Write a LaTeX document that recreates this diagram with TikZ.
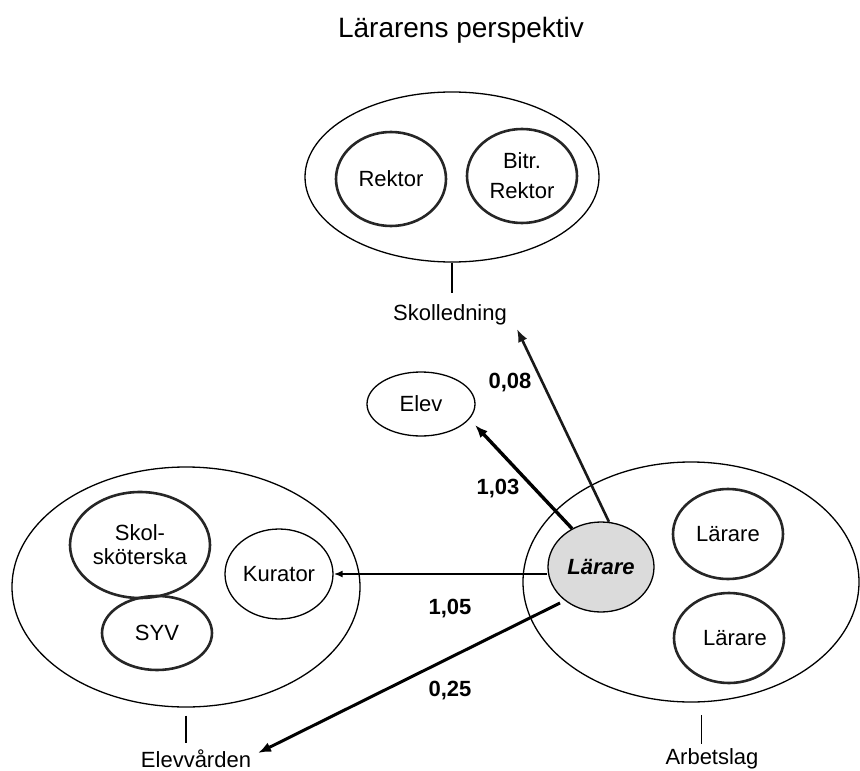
\documentclass[tikz,border=0pt]{standalone}
\usepackage{fontspec}
\setmainfont{Liberation Sans}
\usetikzlibrary{arrows.meta,shapes.geometric}
\begin{document}
\begin{tikzpicture}[x=1pt,y=-1pt,
  lbl/.style={font=\fontsize{22}{24}\selectfont, inner sep=1pt},
  num/.style={font=\bfseries\fontsize{22}{24}\selectfont, inner sep=1pt},
  group/.style={ellipse, draw, line width=1.3pt, inner sep=0pt},
  member/.style={ellipse, draw=black!85, line width=2.6pt, inner sep=0pt, align=center, font=\fontsize{22}{24}\selectfont},
  thinmember/.style={ellipse, draw, line width=1.3pt, inner sep=0pt, align=center, font=\fontsize{22}{24}\selectfont},
  tick/.style={line width=1.3pt},
  arr/.style={-{Latex[length=13pt,width=10pt]}},
]
\useasboundingbox (0,0) rectangle (860,771);

% title
\node[inner sep=0pt, anchor=base, font=\fontsize{28}{30}\selectfont] (title) at (461,37) {Lärarens perspektiv};

% Skolledning
\node[group, minimum width=294pt, minimum height=170pt] (skol) at (452,177) {};
\node[member, minimum width=110pt, minimum height=94pt] (rektor) at (391,179) {Rektor};
\node[member, minimum width=110pt, minimum height=94pt] (bitr) at (522,176) {Bitr.\\[6pt]Rektor};
\node[lbl, anchor=base] (skolLbl) at (450,320) {Skolledning};
\draw[tick, shorten >=10pt] (skol.south) -- (skol.south |- skolLbl.north);

% Elev
\node[thinmember, minimum width=108pt, minimum height=64pt] (elev) at (421,404) {Elev};

% Arbetslag
\node[group, minimum width=336pt, minimum height=240pt] (arb) at (691,582) {};
\node[member, minimum width=110pt, minimum height=90pt] (l1) at (728,534) {Lärare};
\node[member, minimum width=110pt, minimum height=90pt] (l2) at (729,638) {\hspace*{12pt}Lärare};
\node[ellipse, draw, line width=1.3pt, fill=black!14, inner sep=0pt, minimum width=106pt, minimum height=90pt, font=\bfseries\itshape\fontsize{22}{24}\selectfont] (lar) at (601,567) {Lärare};
\node[lbl, anchor=base] (arbLbl) at (712,764) {Arbetslag};
\draw[tick, shorten <=13pt, shorten >=3pt] (arb.275) -- (arb.275 |- arbLbl.north);

% Elevvården
\node[group, minimum width=348pt, minimum height=240pt] (ev) at (186,587) {};
\node[member, minimum width=140pt, minimum height=106pt] (ss) at (140,545) {Skol-\\sköterska};
\node[member, minimum width=110pt, minimum height=74pt] (syv) at (157,633) {SYV};
\node[thinmember, minimum width=108pt, minimum height=90pt] (kur) at (279,574) {Kurator};
\node[lbl, anchor=base] (evLbl) at (196,767) {Elevvården};
\draw[tick, shorten <=8pt, shorten >=5pt] (ev.south) -- (ev.south |- evLbl.north);

% connectors
\coordinate (skolTip) at (517,329);
\coordinate (elevTip) at (475,425);
\coordinate (s25) at (560,603);
\coordinate (t25) at (258,753);
\draw[arr, line width=2.6pt, draw=black!90] (lar.80) -- (skolTip);
\draw[arr, line width=3.4pt] (lar.127) -- (elevTip);
\draw[-{Latex[length=9pt,width=7pt]}, line width=2pt] (lar.west |- kur.east) -- (kur.east);
\draw[arr, line width=3pt] (s25) -- (t25);

% numbers
\node[num] (n008) at (510,383) {0,08};
\node[num] (n103) at (498,489) {1,03};
\node[num] (n105) at (450,609) {1,05};
\node[num] (n025) at (450,691) {0,25};
\end{tikzpicture}
\end{document}
